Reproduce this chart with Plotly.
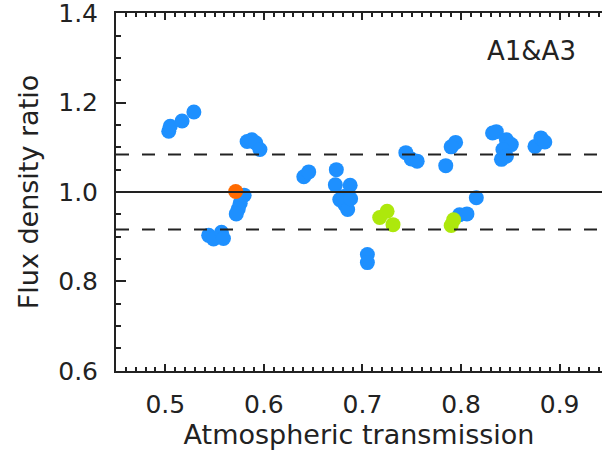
import plotly.graph_objects as go

# Atmospheric transmission vs. flux density ratio, A1&A3 calibrators
trans_blue = [0.5035, 0.505, 0.517, 0.529,
              0.583, 0.5877, 0.5917, 0.596,
              0.6405, 0.6455,
              0.580, 0.576, 0.574, 0.572,
              0.544, 0.549, 0.557, 0.559,
              0.6735, 0.6725, 0.6875, 0.677, 0.681, 0.682, 0.685, 0.688,
              0.705, 0.705,
              0.744, 0.7495, 0.7555,
              0.7945, 0.790, 0.7845,
              0.832, 0.8358, 0.846, 0.851, 0.8425, 0.841, 0.846,
              0.875, 0.881, 0.885,
              0.7985, 0.806, 0.8155]
ratio_blue = [1.136, 1.147, 1.159, 1.179,
              1.113, 1.117, 1.110, 1.095,
              1.034, 1.045,
              0.993, 0.975, 0.962, 0.951,
              0.903, 0.895, 0.910, 0.896,
              1.050, 1.016, 1.015, 0.983, 0.990, 0.972, 0.961, 0.985,
              0.860, 0.842,
              1.088, 1.074, 1.069,
              1.111, 1.101, 1.059,
              1.132, 1.135, 1.117, 1.106, 1.095, 1.073, 1.080,
              1.102, 1.121, 1.112,
              0.949, 0.951, 0.987]

trans_orange = [0.5714]
ratio_orange = [1.001]

trans_green = [0.7175, 0.725, 0.731, 0.790, 0.7925]
ratio_green = [0.943, 0.957, 0.927, 0.925, 0.938]

ref_ratio = 1.0
band_upper = 1.084
band_lower = 0.916

x_ticks = [0.5, 0.6, 0.7, 0.8, 0.9]
y_ticks = [0.6, 0.8, 1.0, 1.2, 1.4]

INK = "#222222"
FONT = "DejaVu Sans"

fig = go.Figure()
fig.add_trace(go.Scatter(x=trans_blue, y=ratio_blue, mode="markers",
                         marker=dict(size=15, color="#1E90FF", line=dict(width=0))))
fig.add_trace(go.Scatter(x=trans_orange, y=ratio_orange, mode="markers",
                         marker=dict(size=15, color="#FF6A00", line=dict(width=0))))
fig.add_trace(go.Scatter(x=trans_green, y=ratio_green, mode="markers",
                         marker=dict(size=15, color="#ADE80C", line=dict(width=0))))

# reference level and scatter band
fig.add_shape(type="line", xref="paper", x0=0, x1=1, y0=ref_ratio, y1=ref_ratio,
              line=dict(color=INK, width=2), layer="above")
for yv in (band_upper, band_lower):
    fig.add_shape(type="line", xref="paper", x0=0, x1=1, y0=yv, y1=yv,
                  line=dict(color=INK, width=2, dash="13px,13px"), layer="above")

fig.add_annotation(text="A1&A3", xref="paper", yref="paper", x=0.854, y=0.894,
                   xanchor="center", yanchor="middle", showarrow=False,
                   font=dict(family=FONT, size=26, color=INK))

fig.update_layout(
    width=602, height=454,
    margin=dict(l=116, r=0, t=13, b=83),
    plot_bgcolor="white", paper_bgcolor="white",
    showlegend=False,
    font=dict(family=FONT, size=25, color=INK),
)
fig.update_xaxes(
    range=[0.45, 0.943], tickvals=x_ticks, ticktext=[f"{v:.1f}" for v in x_ticks],
    showgrid=False, zeroline=False, showline=True, linecolor=INK, linewidth=2,
    mirror="allticks", ticks="inside", ticklen=7, tickwidth=1.5, tickcolor=INK,
    minor=dict(dtick=0.01, ticks="inside", ticklen=4, tickwidth=1.5, tickcolor=INK),
    ticklabelstandoff=10, ticklabeloverflow="allow",
    title=dict(text="Atmospheric transmission", font=dict(size=27), standoff=3),
)
fig.update_yaxes(
    range=[0.5995, 1.4005], tickvals=y_ticks, ticktext=[f"{v:.1f}" for v in y_ticks],
    showgrid=False, zeroline=False, showline=True, linecolor=INK, linewidth=2,
    mirror=False, ticks="inside", ticklen=10, tickwidth=1.5, tickcolor=INK,
    minor=dict(dtick=0.05, ticks="inside", ticklen=5, tickwidth=1.5, tickcolor=INK),
    ticklabelstandoff=11, ticklabeloverflow="allow",
    title=dict(text="Flux density ratio", font=dict(size=27), standoff=12),
)

fig.write_html("out.html")
